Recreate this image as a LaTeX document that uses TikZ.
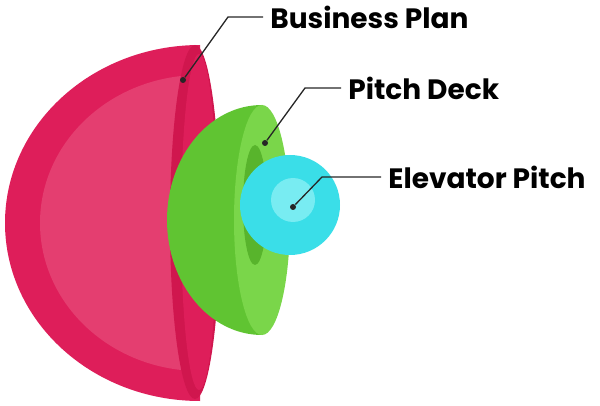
\documentclass[tikz,border=0pt]{standalone}
\usepackage{fontspec}
\setmainfont{Poppins}
\usetikzlibrary{positioning}
\definecolor{pinkdark}{RGB}{222,30,90}
\definecolor{pinkmid}{RGB}{228,62,112}
\definecolor{pinkface}{RGB}{208,22,78}
\definecolor{greendark}{RGB}{96,196,50}
\definecolor{greenface}{RGB}{122,214,74}
\definecolor{greenhole}{RGB}{88,180,44}
\definecolor{cyanball}{RGB}{58,222,232}
\definecolor{cyanlight}{RGB}{120,236,242}
\tikzset{every picture/.style={line width=0.75pt}}
\tikzset{
  label text/.style={anchor=west,inner sep=0pt,font=\fontsize{28}{32}\selectfont\bfseries},
  leader/.style={draw=black!85,line width=1.3pt},
  dot/.style={circle,fill=black!85,inner sep=0pt,minimum size=6pt}
}
\begin{document}
\begin{tikzpicture}[x=1pt,y=1pt,yscale=-1,xscale=1]
\useasboundingbox (0,0) rectangle (600,406);

%Shape: pink half sphere
\fill[pinkdark] (200,45) arc[start angle=-90,end angle=-270,x radius=195,y radius=178] -- cycle;
\fill[pinkmid] (200,75) arc[start angle=-90,end angle=-270,x radius=160,y radius=148] -- cycle;
\fill[pinkface] (195,222) ellipse[x radius=25,y radius=177];
\fill[pinkdark] (199,222) ellipse[x radius=18,y radius=168];

%Shape: green half sphere
\fill[greendark] (262,105) arc[start angle=-90,end angle=-270,x radius=95,y radius=115] -- cycle;
\fill[greenface] (262,220) ellipse[x radius=28,y radius=115];
\fill[greenhole] (255,205) ellipse[x radius=12,y radius=60];

%Shape: cyan ball
\fill[cyanball] (290,205) circle[radius=50];
\fill[cyanlight] (293,200) circle[radius=22];

% dots
\node[dot] (bp) at (183,80) {};
\node[dot] (pd) at (265,143) {};
\node[dot] (ep) at (293,207) {};

% Text Node
\node[label text] (bptext) at (270,17) {Business Plan};
% Text Node
\node[label text] (pdtext) at (348,88) {Pitch Deck};
% Text Node
\node[label text] (eptext) at (388,177) {Elevator Pitch};

\draw[leader] (bp) -- (228,17) -- ([xshift=-7pt]bptext.west);
\draw[leader] (pd) -- (305,88) -- ([xshift=-7pt]pdtext.west);
\draw[leader] (ep) -- (322,177) -- ([xshift=-7pt]eptext.west);
\end{tikzpicture}
\end{document}
